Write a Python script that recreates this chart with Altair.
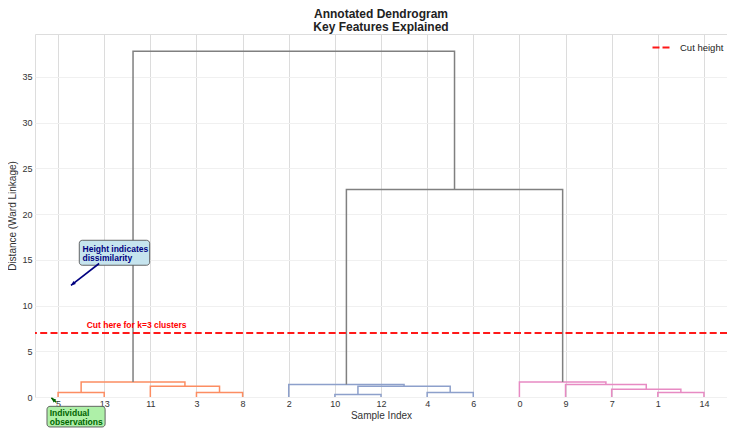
import math
import altair as alt
import pandas as pd

# ---------------- data ----------------
leaf_labels = ["5", "13", "11", "3", "8", "2", "10", "12", "4", "6", "0", "9", "7", "1", "14"]
leaf_pos = [5 + 10 * i for i in range(len(leaf_labels))]

# scipy-style link coordinates (x in leaf units, y = merge distance)
link_x = [
    [5, 5, 15, 15], [35, 35, 45, 45], [25, 25, 40, 40], [10, 10, 32.5, 32.5],
    [65, 65, 75, 75], [85, 85, 95, 95], [70, 70, 90, 90], [55, 55, 80, 80],
    [135, 135, 145, 145], [125, 125, 140, 140], [115, 115, 132.5, 132.5], [105, 105, 123.75, 123.75],
    [67.5, 67.5, 114.375, 114.375], [21.25, 21.25, 90.9375, 90.9375],
]
link_h = [
    [0, 0.48, 0.48, 0], [0, 0.48, 0.48, 0], [0, 1.17, 1.17, 0.48], [0.48, 1.64, 1.64, 1.17],
    [0, 0.26, 0.26, 0], [0, 0.48, 0.48, 0], [0.26, 1.17, 1.17, 0.48], [0, 1.36, 1.36, 1.17],
    [0, 0.48, 0.48, 0], [0, 0.84, 0.84, 0.48], [0, 1.36, 1.36, 0.84], [0, 1.64, 1.64, 1.36],
    [1.36, 22.7, 22.7, 1.64], [1.64, 37.8, 37.8, 22.7],
]
link_group = ["C1"] * 4 + ["C2"] * 4 + ["C3"] * 4 + ["above"] * 2
group_names = ["C1", "C2", "C3", "above"]
group_colors = ["#fc8d62", "#8da0cb", "#e78ac3", "#808080"]

cut_height = 7.0
y_max = 39.7
x_max = 150

W, H = 692, 363

rows = []
for i, (xs, hs, g) in enumerate(zip(link_x, link_h, link_group)):
    for j, (xv, hv) in enumerate(zip(xs, hs)):
        rows.append({"link": i, "ord": j, "x": xv, "h": hv, "grp": g})
links_df = pd.DataFrame(rows)

xscale = alt.Scale(domain=[0, x_max], nice=False, zero=False)
yscale = alt.Scale(domain=[0, y_max], nice=False, zero=False)

label_arr = "[" + ",".join("'" + s + "'" for s in leaf_labels) + "]"

x_axis = alt.Axis(
    values=leaf_pos, labelExpr=label_arr + "[round((datum.value-5)/10)]",
    title="Sample Index", labelFontSize=9, titleFontSize=10, titleFontWeight="normal",
    labelPadding=2, titlePadding=2, ticks=False, domain=False, labelAngle=0,
    gridColor="#dcdcdc", gridWidth=1, labelColor="#333333", titleColor="#333333",
    labelFont="Liberation Sans", titleFont="Liberation Sans",
)
y_axis = alt.Axis(
    values=[0, 5, 10, 15, 20, 25, 30, 35], title="Distance (Ward Linkage)",
    labelFontSize=9, titleFontSize=10, titleFontWeight="normal", labelPadding=3,
    titlePadding=4, ticks=False, domain=False, gridColor="#f0f0f0", gridWidth=1,
    labelColor="#333333", titleColor="#333333",
    labelFont="Liberation Sans", titleFont="Liberation Sans",
)

links = alt.Chart(links_df).mark_line(strokeWidth=1.5, interpolate="linear").encode(
    x=alt.X("x:Q", scale=xscale, axis=x_axis),
    y=alt.Y("h:Q", scale=yscale, axis=y_axis),
    detail="link:N",
    order="ord:Q",
    stroke=alt.Stroke("grp:N", scale=alt.Scale(domain=group_names, range=group_colors), legend=None),
)

cut_df = pd.DataFrame({"y": [cut_height], "name": ["Cut height"]})
cut = alt.Chart(cut_df).mark_rule(strokeWidth=2.2, strokeDash=[7, 3.3], opacity=0.9).encode(
    y=alt.Y("y:Q", scale=yscale),
    color=alt.Color("name:N", scale=alt.Scale(range=["#ff0000"]),
                    legend=alt.Legend(orient="none", legendX=616, legendY=2, title=None,
                                      symbolType="stroke", symbolStrokeWidth=2.2,
                                      symbolDash=[7, 3], symbolSize=400, labelFontSize=9.5,
                                      labelColor="#222222", labelOffset=6, padding=0,
                                      labelFont="Liberation Sans")),
)

cut_text_df = pd.DataFrame({"x": [11.2], "y": [7.6], "t": ["Cut here for k=3 clusters"]})
cut_text = alt.Chart(cut_text_df).mark_text(
    align="left", baseline="alphabetic", fontSize=8.5, fontWeight="bold", color="#ff0000",
    font="Liberation Sans",
).encode(x=alt.X("x:Q", scale=xscale), y=alt.Y("y:Q", scale=yscale), text="t:N")

# annotation boxes
box_df = pd.DataFrame({
    "x": [9.6, 2.6], "x2": [24.85, 15.2], "y": [17.14, -1.02], "y2": [14.41, -3.28],
    "fill": ["#c6e4ee", "#aef0a8"],
})
boxes = alt.Chart(box_df).mark_rect(cornerRadius=3, stroke="#555555", strokeWidth=0.9).encode(
    x=alt.X("x:Q", scale=xscale), x2="x2:Q",
    y=alt.Y("y:Q", scale=yscale), y2="y2:Q",
    fill=alt.Fill("fill:N", scale=None),
)

note_df = pd.DataFrame({
    "x": [10.3, 3.2], "y": [16.62, -1.27],
    "t": ["Height indicates\ndissimilarity", "Individual\nobservations"],
    "c": ["#000080", "#006400"],
})
notes = alt.Chart(note_df).mark_text(
    align="left", baseline="top", fontSize=8.5, fontWeight="bold", lineBreak="\n",
    lineHeight=9, font="Liberation Sans",
).encode(
    x=alt.X("x:Q", scale=xscale), y=alt.Y("y:Q", scale=yscale), text="t:N",
    color=alt.Color("c:N", scale=None),
)

# arrows: tail -> tip
arrow_tail = [(13.9, 14.6), (4.6, -0.55)]
arrow_tip = [(7.8, 12.2), (3.55, -0.1)]
arrow_col = ["#000080", "#006400"]
sx, sy = W / x_max, H / y_max
arow = []
hrow = []
for k, ((tx, ty), (px, py), c) in enumerate(zip(arrow_tail, arrow_tip, arrow_col)):
    arow.append({"a": k, "o": 0, "x": tx, "y": ty, "c": c})
    arow.append({"a": k, "o": 1, "x": px, "y": py, "c": c})
    dx = (px - tx) * sx
    dy = -(py - ty) * sy
    ang = math.degrees(math.atan2(dx, -dy)) % 360
    hrow.append({"x": px, "y": py, "c": c, "ang": ang})
arrow_df = pd.DataFrame(arow)
head_df = pd.DataFrame(hrow)

shafts = alt.Chart(arrow_df).mark_line(strokeWidth=1.6).encode(
    x=alt.X("x:Q", scale=xscale), y=alt.Y("y:Q", scale=yscale),
    detail="a:N", order="o:Q", color=alt.Color("c:N", scale=None),
)
heads = alt.Chart(head_df).mark_point(
    shape="M0,0L0.5,1.2L-0.5,1.2Z", filled=True, size=60, opacity=1,
).encode(
    x=alt.X("x:Q", scale=xscale), y=alt.Y("y:Q", scale=yscale),
    color=alt.Color("c:N", scale=None), angle=alt.Angle("ang:Q", scale=None),
)

chart = alt.layer(links, cut, cut_text, boxes, notes, shafts, heads).resolve_scale(
    color="independent"
).properties(
    width=W, height=H,
    title=alt.Title(["Annotated Dendrogram", "Key Features Explained"], fontSize=12,
                    fontWeight="bold", color="#222222", anchor="middle", offset=6, dy=15,
                    baseline="alphabetic", lineHeight=13, font="Liberation Sans"),
    autosize=alt.AutoSizeParams(type="none"),
    padding={"left": 27, "top": 26, "right": 0, "bottom": 31},
).configure_view(stroke="#d0d0d0", strokeWidth=1).configure(background="white")

chart.save("out.html", embed_options={"renderer": "svg", "actions": False})
